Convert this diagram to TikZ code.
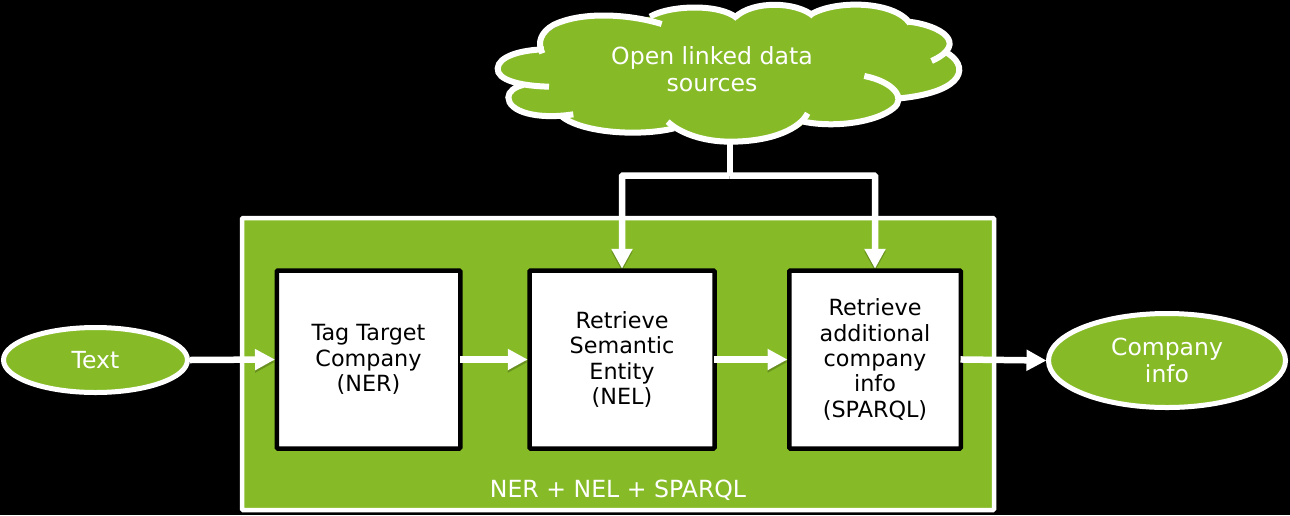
\documentclass[tikz,border=0pt]{standalone}
\usepackage{fontspec}
\setmainfont{DejaVu Sans}
\usetikzlibrary{arrows.meta,shapes.geometric}
\definecolor{nvgreen}{HTML}{86BB27}
\tikzset{
  x=1pt,y=-1pt,
  panel/.style={draw=white,fill=nvgreen,line width=4.5pt,rounded corners=1pt},
  stepbox/.style={draw=black,fill=white,line width=4.5pt,rounded corners=1pt,inner sep=0pt,align=center,text=black,font=\fontsize{22.3}{25.3}\selectfont},
  oval/.style={ellipse,draw=white,fill=nvgreen,line width=5pt,inner sep=0pt,align=center,text=white,font=\fontsize{23.5}{27.5}\selectfont},
  label/.style={text=white,align=center,inner sep=0pt,font=\fontsize{23.6}{27.5}\selectfont},
  flow/.style={draw=white,line width=6.5pt,-{Triangle[length=20pt,width=20pt]},shorten >=-0.5pt,
    preaction={draw=black,draw opacity=.22,transform canvas={yshift=-2.5pt}}},
  overlap/.style={shorten <=-2.5pt},
  trunk/.style={draw=white,line width=6pt,rounded corners=1pt},
  cloudfill/.style={fill=nvgreen},
  cloudline/.style={draw=white,line width=6pt,line cap=butt,fill=none},
}
\begin{document}
\begin{tikzpicture}
\useasboundingbox[fill=black] (0,0) rectangle (1290,515);
% container
\node[panel,minimum width=752pt,minimum height=292pt,inner sep=0pt] (main) at (618,364) {};
\node[label,anchor=center] (mainlabel) at (618,490) {NER + NEL + SPARQL};
% process boxes
\node[stepbox,minimum width=183.5pt,minimum height=178pt] (ner) at (368.5,359.5) {Tag Target\\Company\\(NER)};
\node[stepbox,minimum width=185pt,minimum height=178pt] (nel) at (622,359.5) {Retrieve\\Semantic\\Entity\\(NEL)};
\node[stepbox,minimum width=171.5pt,minimum height=178pt] (spq) at (875,359.5) {Retrieve\\additional\\company\\info\\(SPARQL)};
% end ovals
\node[oval,minimum width=184pt,minimum height=65pt] (text) at (95.5,360) {Text};
\node[oval,minimum width=237pt,minimum height=94pt] (info) at (1167,360.5) {Company\\info};
% cloud
\begin{scope}[shift={(480,0)},x=0.3333pt,y=-0.3333pt]
\fill[cloudfill]
  (185,150) .. controls (165,90) and (290,40) .. (400,45)
  .. controls (440,45) and (480,55) .. (510,50)
  .. controls (570,15) and (720,10) .. (770,50)
  .. controls (820,0) and (950,5) .. (995,45)
  .. controls (1060,0) and (1240,0) .. (1290,68)
  .. controls (1370,75) and (1440,120) .. (1400,155)
  .. controls (1460,190) and (1460,270) .. (1260,295)
  .. controls (1240,350) and (1100,385) .. (975,365)
  .. controls (940,425) and (680,450) .. (580,387)
  .. controls (480,410) and (300,400) .. (245,345)
  .. controls (170,360) and (85,335) .. (85,292)
  .. controls (85,275) and (105,260) .. (130,255)
  .. controls (80,245) and (50,230) .. (53,205)
  .. controls (55,170) and (120,150) .. (185,150) -- cycle;
\path[cloudline]
  (545,72) .. controls (440,40) and (300,35) .. (220,75) .. controls (185,95) and (170,125) .. (187,160);
\path[cloudline]
  (510,50) .. controls (570,15) and (720,10) .. (772,55);
\path[cloudline]
  (765,52) .. controls (820,0) and (950,5) .. (1000,48);
\path[cloudline]
  (990,45) .. controls (1060,0) and (1240,0) .. (1290,70);
\path[cloudline]
  (1285,65) .. controls (1380,75) and (1470,130) .. (1355,183);
\path[cloudline]
  (1395,155) .. controls (1470,195) and (1460,275) .. (1260,295);
\path[cloudline]
  (1153,228) .. controls (1240,245) and (1280,295) .. (1240,325) .. controls (1190,365) and (1070,385) .. (970,365);
\path[cloudline]
  (983,340) .. controls (960,385) and (880,425) .. (750,425) .. controls (670,425) and (600,400) .. (563,365);
\path[cloudline]
  (582,385) .. controls (480,410) and (300,400) .. (240,345);
\path[cloudline]
  (280,343) .. controls (170,360) and (85,335) .. (85,292) .. controls (85,275) and (105,260) .. (130,255);
\path[cloudline]
  (207,260) .. controls (120,258) and (50,240) .. (53,205) .. controls (55,170) and (120,150) .. (192,148);
\end{scope}
\node[label] (cloud) at (712,69) {Open linked data\\sources};
% connectors
\coordinate (stem) at (729.5,141);
\coordinate (junction) at (729.5,175.5);
\draw[trunk] (stem) -- (junction);
\draw[flow,rounded corners=1pt] (junction) -| (nel.north);
\draw[flow,rounded corners=1pt] (junction) -| (spq.north);
\draw[flow] (text.east) -- (ner.west);
\draw[flow,overlap] (ner.east) -- (nel.west);
\draw[flow,overlap] (nel.east) -- (spq.west);
\draw[flow,overlap] (spq.east) -- (info.west);
\end{tikzpicture}
\end{document}
